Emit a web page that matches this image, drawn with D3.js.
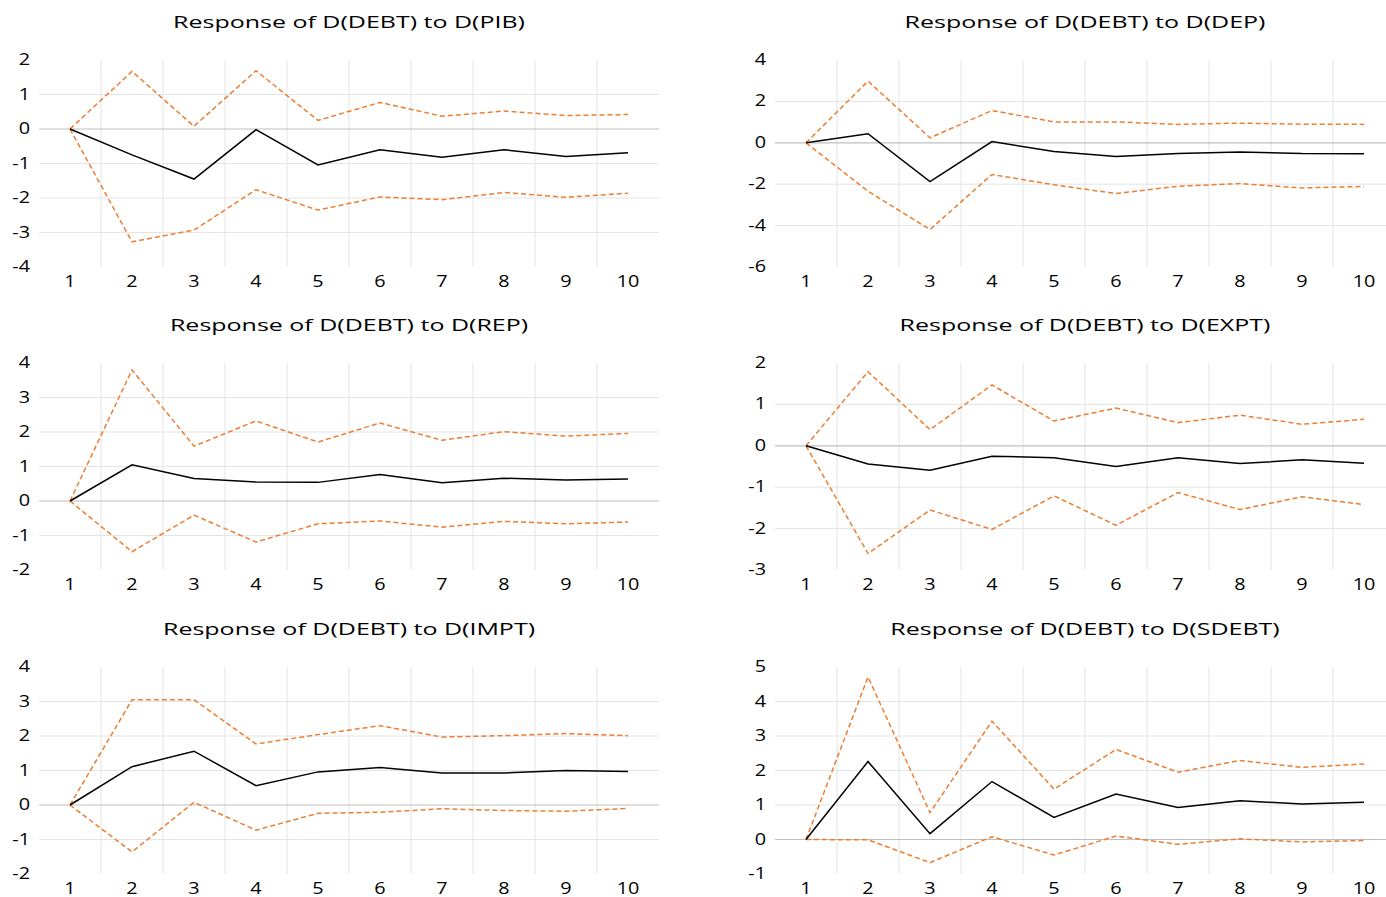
<!DOCTYPE html>
<html>
<head>
<meta charset="utf-8">
<script src="https://cdn.jsdelivr.net/npm/d3@7"></script>
<style>
  body { margin: 0; background: #fff; }
  text { font-family: "Open Sans", sans-serif; fill: #000; }
</style>
</head>
<body>
<div id="chart"></div>
<script>
// periods on the x axis
const periods = [1, 2, 3, 4, 5, 6, 7, 8, 9, 10];

const titles = [
    "Response of D(DEBT) to D(PIB)",
    "Response of D(DEBT) to D(DEP)",
    "Response of D(DEBT) to D(REP)",
    "Response of D(DEBT) to D(EXPT)",
    "Response of D(DEBT) to D(IMPT)",
    "Response of D(DEBT) to D(SDEBT)"
];

// y axis range + tick step per panel
const yMin = [-4, -6, -2, -3, -2, -1];
const yMax = [2, 4, 4, 2, 4, 5];
const yStep = [1, 2, 1, 1, 1, 1];

// responses and confidence bands
const pibResp  = [0, -0.75, -1.45, -0.02, -1.04, -0.60, -0.82, -0.60, -0.80, -0.69];
const pibUpper = [0, 1.67, 0.08, 1.69, 0.25, 0.77, 0.37, 0.52, 0.39, 0.42];
const pibLower = [0, -3.27, -2.93, -1.76, -2.35, -1.97, -2.05, -1.84, -1.98, -1.86];

const depResp  = [0, 0.44, -1.87, 0.06, -0.42, -0.66, -0.52, -0.44, -0.52, -0.53];
const depUpper = [0, 2.98, 0.24, 1.56, 1.01, 1.01, 0.89, 0.95, 0.90, 0.89];
const depLower = [0, -2.34, -4.19, -1.53, -2.03, -2.45, -2.10, -1.97, -2.18, -2.11];

const repResp  = [0, 1.05, 0.65, 0.55, 0.54, 0.77, 0.53, 0.66, 0.61, 0.64];
const repUpper = [0, 3.80, 1.59, 2.32, 1.71, 2.26, 1.76, 2.01, 1.88, 1.96];
const repLower = [0, -1.47, -0.41, -1.19, -0.66, -0.58, -0.76, -0.59, -0.66, -0.61];

const exptResp  = [0, -0.44, -0.59, -0.25, -0.29, -0.50, -0.29, -0.43, -0.34, -0.42];
const exptUpper = [0, 1.79, 0.39, 1.47, 0.60, 0.91, 0.56, 0.74, 0.52, 0.64];
const exptLower = [0, -2.60, -1.55, -2.02, -1.21, -1.92, -1.13, -1.54, -1.23, -1.42];

const imptResp  = [0, 1.11, 1.56, 0.56, 0.96, 1.09, 0.93, 0.93, 1.00, 0.97];
const imptUpper = [0, 3.05, 3.05, 1.77, 2.04, 2.30, 1.97, 2.01, 2.07, 2.01];
const imptLower = [0, -1.36, 0.08, -0.73, -0.24, -0.21, -0.11, -0.16, -0.18, -0.10];

const sdebtResp  = [0, 2.26, 0.17, 1.68, 0.64, 1.32, 0.93, 1.12, 1.03, 1.08];
const sdebtUpper = [0, 4.71, 0.78, 3.43, 1.46, 2.61, 1.95, 2.29, 2.09, 2.19];
const sdebtLower = [0, -0.01, -0.67, 0.08, -0.45, 0.10, -0.14, 0.02, -0.07, -0.03];

const responses = [pibResp, depResp, repResp, exptResp, imptResp, sdebtResp];
const uppers = [pibUpper, depUpper, repUpper, exptUpper, imptUpper, sdebtUpper];
const lowers = [pibLower, depLower, repLower, exptLower, imptLower, sdebtLower];

const W = 1386, H = 897;
const colLeft = [39, 775];
const rowTop = [60, 363, 667];
const plotW = 620, plotH = 207;

const svg = d3.select("#chart").append("svg")
    .attr("width", W)
    .attr("height", H);

// the source picture is stretched horizontally, so text is too
function stretchedText(g, x, y, str, size, anchor, sx) {
    g.append("text")
        .attr("transform", `translate(${x},${y}) scale(${sx},1)`)
        .attr("text-anchor", anchor)
        .style("font-size", size + "px")
        .text(str);
}

titles.forEach((title, i) => {
    const left = colLeft[i % 2];
    const top = rowTop[Math.floor(i / 2)];

    const g = svg.append("g").attr("transform", `translate(${left},${top})`);

    const x = d3.scaleBand().domain(periods).range([0, plotW]);
    const y = d3.scaleLinear().domain([yMin[i], yMax[i]]).range([plotH, 0]);
    const ticks = d3.range(yMin[i], yMax[i] + yStep[i] / 2, yStep[i]);

    // horizontal grid (not top / bottom)
    g.append("g").selectAll("line")
        .data(ticks.filter(t => t !== yMin[i] && t !== yMax[i] && t !== 0))
        .enter().append("line")
        .attr("x1", 0).attr("x2", plotW)
        .attr("y1", d => y(d)).attr("y2", d => y(d))
        .attr("stroke", "#e4e4e4")
        .attr("stroke-width", 1);

    // vertical grid between categories
    g.append("g").selectAll("line")
        .data(periods.slice(1))
        .enter().append("line")
        .attr("x1", d => x(d)).attr("x2", d => x(d))
        .attr("y1", 0).attr("y2", plotH)
        .attr("stroke", "#e4e4e4")
        .attr("stroke-width", 1);

    // zero line
    g.append("line")
        .attr("x1", 0).attr("x2", plotW)
        .attr("y1", y(0)).attr("y2", y(0))
        .attr("stroke", "#bfbfbf")
        .attr("stroke-width", 1.2);

    // y tick labels
    ticks.forEach(t => stretchedText(g, -9, y(t) + 5, String(t), 15.5, "end", 1.28));

    // x tick labels
    periods.forEach(p => stretchedText(g, x(p) + x.bandwidth() / 2, plotH + 20, String(p), 15.5, "middle", 1.28));

    // title
    stretchedText(g, plotW / 2, -32, title, 17, "middle", 1.47);

    const line = d3.line()
        .x((d, k) => x(periods[k]) + x.bandwidth() / 2)
        .y(d => y(d));

    [uppers[i], lowers[i]].forEach(band => {
        g.append("path")
            .attr("d", line(band))
            .attr("fill", "none")
            .attr("stroke", "#ed7d31")
            .attr("stroke-width", 1.5)
            .attr("stroke-dasharray", "5,3");
    });

    g.append("path")
        .attr("d", line(responses[i]))
        .attr("fill", "none")
        .attr("stroke", "#000")
        .attr("stroke-width", 1.5);
});
</script>
</body>
</html>
